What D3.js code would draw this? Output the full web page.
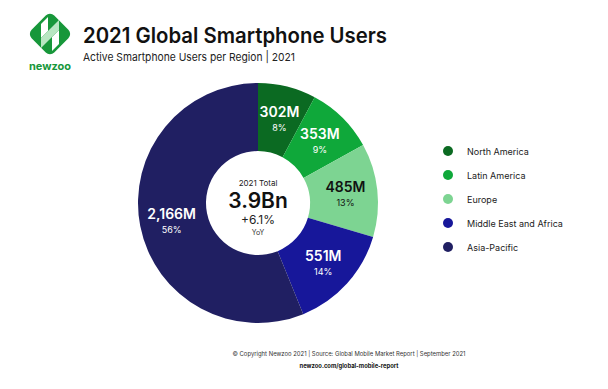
<!DOCTYPE html>
<html>
<head>
<meta charset="utf-8">
<script src="https://cdn.jsdelivr.net/npm/d3@7/dist/d3.min.js"></script>
<style>
  html, body { margin: 0; padding: 0; background: #fff; }
  svg { display: block; font-family: Inter, "Open Sans", sans-serif; }
</style>
</head>
<body>
<div id="chart"></div>
<script>
// data
var regions = ['North America', 'Latin America', 'Europe', 'Middle East and Africa', 'Asia-Pacific'];
var users = [302, 353, 485, 551, 2166];
var valueLabels = ['302M', '353M', '485M', '551M', '2,166M'];
var shareLabels = ['8%', '9%', '13%', '14%', '56%'];
var colors = ['#0b6a22', '#0fa83a', '#7dd492', '#17179a', '#201f62'];
var labelColors = ['#fff', '#fff', '#111', '#fff', '#fff'];

var width = 608, height = 389;
var cx = 258, cy = 203, outerR = 120, innerR = 52;

var svg = d3.select('#chart').append('svg')
    .attr('width', width)
    .attr('height', height);

// logo
var logo = svg.append('g').attr('transform', 'translate(50,34)');
logo.append('rect')
    .attr('x', -16).attr('y', -16)
    .attr('width', 32).attr('height', 32)
    .attr('rx', 6)
    .attr('transform', 'rotate(45)')
    .style('fill', '#17973a');
logo.append('path')
    .attr('d', 'M-9,-10 L-2,-17 L-2,-3 L-9,4 Z')
    .style('fill', '#fff');
logo.append('path')
    .attr('d', 'M2,3 L9,-4 L9,10 L2,17 Z')
    .style('fill', '#fff');
logo.append('path')
    .attr('d', 'M-2,-3 L9,-14 L9,-4 L2,3 L-9,14 L-9,4 Z')
    .style('fill', '#b8e6c2');
svg.append('text')
    .attr('x', 50).attr('y', 70)
    .attr('text-anchor', 'middle')
    .style('font-size', '11px')
    .style('font-weight', 700)
    .style('fill', '#17973a')
    .text('newzoo');

// titles
svg.append('text')
    .attr('x', 83).attr('y', 43)
    .attr('textLength', 304)
    .attr('lengthAdjust', 'spacingAndGlyphs')
    .style('font-size', '21px')
    .style('font-weight', 600)
    .style('fill', '#111')
    .text('2021 Global Smartphone Users');
svg.append('text')
    .attr('x', 83).attr('y', 61)
    .attr('textLength', 212)
    .attr('lengthAdjust', 'spacingAndGlyphs')
    .style('font-size', '11px')
    .style('fill', '#222')
    .text('Active Smartphone Users per Region | 2021');

// donut
var pie = d3.pie().sort(null).value(function(d) { return d; });
var arc = d3.arc().innerRadius(innerR).outerRadius(outerR);
var labelArc = d3.arc().innerRadius(88).outerRadius(88);
var arcs = pie(users);

var g = svg.append('g').attr('transform', 'translate(' + cx + ',' + cy + ')');

g.selectAll('path.slice')
    .data(arcs)
    .enter()
    .append('path')
    .attr('class', 'slice')
    .attr('d', arc)
    .style('fill', function(d, i) { return colors[i]; });

var lbl = g.selectAll('g.lbl')
    .data(arcs)
    .enter()
    .append('g')
    .attr('class', 'lbl')
    .attr('transform', function(d) { return 'translate(' + labelArc.centroid(d) + ')'; });

lbl.append('text')
    .attr('text-anchor', 'middle')
    .attr('y', -1)
    .style('font-size', '14px')
    .style('font-weight', 600)
    .style('fill', function(d, i) { return labelColors[i]; })
    .text(function(d, i) { return valueLabels[i]; });

lbl.append('text')
    .attr('text-anchor', 'middle')
    .attr('y', 13)
    .style('font-size', '9px')
    .style('fill', function(d, i) { return labelColors[i]; })
    .text(function(d, i) { return shareLabels[i]; });

// center text
var center = g.append('g');
center.append('text')
    .attr('text-anchor', 'middle').attr('y', -17)
    .style('font-size', '8px').style('fill', '#222')
    .text('2021 Total');
center.append('text')
    .attr('text-anchor', 'middle').attr('y', 5)
    .style('font-size', '21px').style('font-weight', 600).style('fill', '#111')
    .text('3.9Bn');
center.append('text')
    .attr('text-anchor', 'middle').attr('y', 21)
    .style('font-size', '12px').style('fill', '#222')
    .text('+6.1%');
center.append('text')
    .attr('text-anchor', 'middle').attr('y', 32)
    .style('font-size', '7px').style('fill', '#333')
    .text('YoY');

// legend
var legend = svg.selectAll('g.legend')
    .data(regions)
    .enter()
    .append('g')
    .attr('class', 'legend')
    .attr('transform', function(d, i) { return 'translate(448,' + (151 + i * 24) + ')'; });

legend.append('circle')
    .attr('r', 5)
    .style('fill', function(d, i) { return colors[i]; });

legend.append('text')
    .attr('x', 19).attr('y', 3.5)
    .style('font-size', '9px')
    .style('fill', '#222')
    .text(function(d) { return d; });

// footer
svg.append('text')
    .attr('x', 349).attr('y', 356)
    .attr('text-anchor', 'middle')
    .attr('textLength', 233)
    .attr('lengthAdjust', 'spacingAndGlyphs')
    .style('font-size', '6px')
    .style('fill', '#333')
    .text('\u00a9 Copyright Newzoo 2021 | Source: Global Mobile Market Report | September 2021');
svg.append('text')
    .attr('x', 349).attr('y', 368)
    .attr('text-anchor', 'middle')
    .attr('textLength', 99)
    .attr('lengthAdjust', 'spacingAndGlyphs')
    .style('font-size', '6.5px')
    .style('font-weight', 700)
    .style('fill', '#111')
    .text('newzoo.com/global-mobile-report');
</script>
</body>
</html>
